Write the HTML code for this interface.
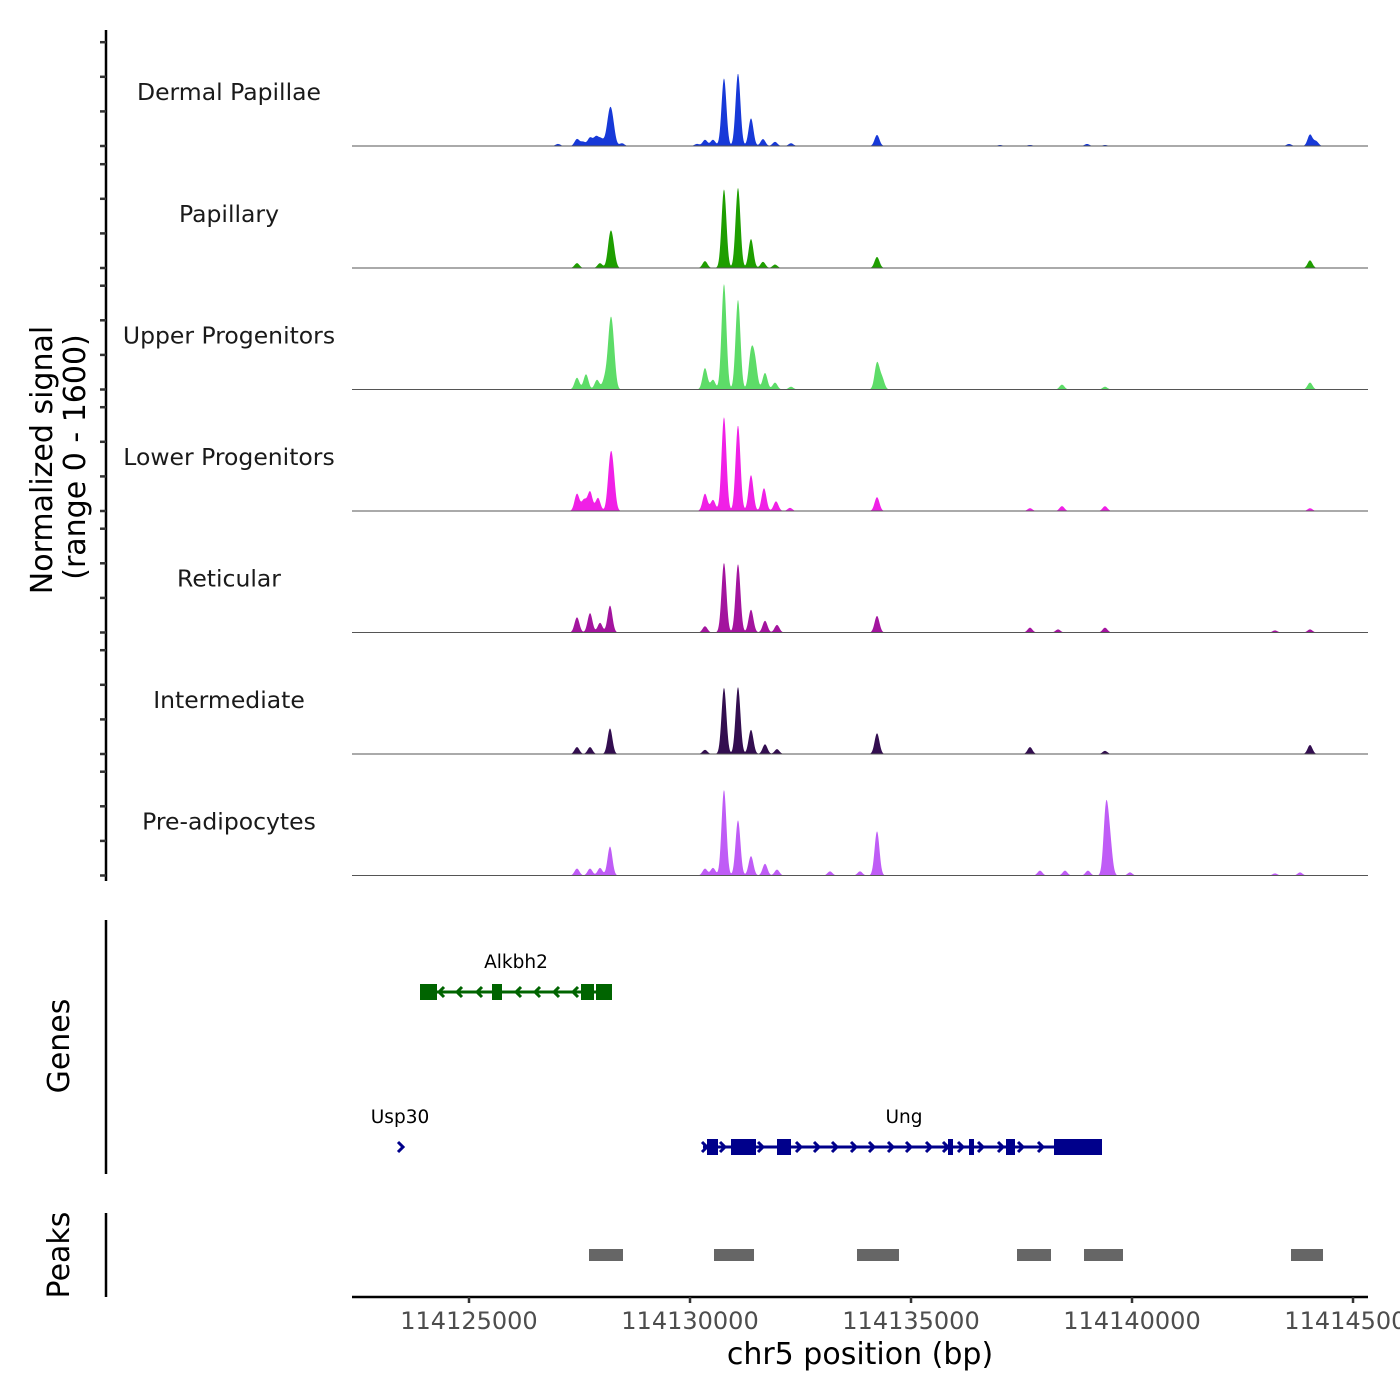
<!DOCTYPE html>
<html><head><meta charset="utf-8">
<style>
html,body{margin:0;padding:0;background:#fff;}
svg{display:block;font-family:"DejaVu Sans","Liberation Sans",sans-serif;}
</style></head>
<body>
<svg id="chart" width="1400" height="1400" viewBox="0 0 1400 1400">
<g id="tracks"></g>
<g id="genes"></g>
<g id="peaks"></g>
<g id="axes"></g>
</svg>
<script>
// ---- data ----
const trackNames = ["Dermal Papillae","Papillary","Upper Progenitors","Lower Progenitors","Reticular","Intermediate","Pre-adipocytes"];
const trackColors = ["#1739d8","#1e9e00","#5ddc68","#f020e6","#a3149e","#330e50","#bf5cf6"];
// peak centers (bp) and heights (normalized units) per track
const peakPos0 = [114127014,114127443,114127579,114127738,114127873,114127986,114128122,114128190,114128258,114128461,114130158,114130339,114130520,114130769,114131086,114131380,114131651,114131923,114132285,114134231,114137013,114137692,114138982,114139389,114143552,114144027,114144163];
const peakVal0 = [30,100,60,120,130,100,120,400,230,40,30,90,90,980,1050,400,100,60,40,160,15,15,30,15,30,165,70];
const peakPos1 = [114127443,114127964,114128190,114128258,114130339,114130769,114131086,114131380,114131651,114131923,114134231,114144027];
const peakVal1 = [70,70,400,250,100,1140,1160,420,90,50,160,110];
const peakPos2 = [114127443,114127647,114127896,114128077,114128190,114128258,114130339,114130520,114130769,114131086,114131380,114131470,114131697,114131923,114132285,114134231,114134344,114138416,114139389,114144027];
const peakVal2 = [170,220,140,160,740,520,310,140,1530,1300,500,380,240,100,40,380,160,70,40,100];
const peakPos3 = [114127443,114127602,114127738,114127918,114128190,114128258,114130339,114130520,114130769,114131086,114131380,114131674,114131946,114132262,114134231,114137692,114138416,114139389,114144027];
const peakVal3 = [250,160,280,190,600,450,250,160,1360,1240,520,330,140,45,200,40,70,70,40];
const peakPos4 = [114127443,114127738,114127964,114128190,114130339,114130769,114131086,114131380,114131697,114131968,114134231,114137692,114138326,114139389,114143235,114144027];
const peakVal4 = [220,280,140,390,90,1010,990,330,170,110,240,70,45,70,30,45];
const peakPos5 = [114127443,114127738,114128190,114130339,114130769,114131086,114131380,114131697,114131968,114134231,114137692,114139389,114144027];
const peakVal5 = [100,100,370,60,960,970,350,140,70,300,100,45,130];
const peakPos6 = [114127443,114127738,114127964,114128190,114130339,114130520,114130769,114131086,114131380,114131697,114131968,114133167,114133846,114134231,114137918,114138484,114139004,114139411,114139502,114139954,114143235,114143801];
const peakVal6 = [100,100,110,420,100,110,1240,800,280,170,85,60,60,640,70,70,70,960,450,45,30,45];
const peakPositions = [peakPos0,peakPos1,peakPos2,peakPos3,peakPos4,peakPos5,peakPos6];
const peakValues = [peakVal0,peakVal1,peakVal2,peakVal3,peakVal4,peakVal5,peakVal6];
const xTicks = [114125000,114130000,114135000,114140000,114145000];
const peakStarts = [114127715,114130543,114133778,114137398,114138914,114143597];
const peakEnds = [114128484,114131448,114134728,114138167,114139796,114144321];

// ---- scales ----
const X0=352, X1=1368, BP0=114122353, BP1=114145339;
const xs = bp => X0 + (bp-BP0)*(X1-X0)/(BP1-BP0);
const baselines = [146,268,389.5,511,632.5,754,875.5];
const ys = (v,i) => baselines[i] - v*0.069;
const NS="http://www.w3.org/2000/svg";
function mk(tag,attrs,parent,text){const e=document.createElementNS(NS,tag);for(const k in attrs)e.setAttribute(k,attrs[k]);if(text!=null)e.textContent=text;parent.appendChild(e);return e;}

// ---- tracks ----
const tg=document.getElementById('tracks');
trackNames.forEach((name,i)=>{
  const g=mk('g',{},tg);
  
  
  const P=peakPositions[i], V=peakValues[i], sig=55;
  let d='M'+xs(114124300)+','+baselines[i];
  for(let bp=114124300;bp<=114144650;bp+=12){
    let v=0;for(let k=0;k<P.length;k++){const z=(bp-P[k])/sig;v+=V[k]*Math.exp(-0.5*z*z);}
    d+=' L'+xs(bp).toFixed(2)+','+ys(Math.min(v,1600),i).toFixed(2);
  }
  d+=' L'+xs(114144650)+','+baselines[i]+' Z';
  const a=mk('path',{d:d,fill:trackColors[i]},g);
  
  
  const l=mk('line',{x1:X0,x2:X1,y1:baselines[i],y2:baselines[i],stroke:'#555','stroke-width':1},g);
  
  
  const t=mk('text',{x:229,y:baselines[i]-46,'text-anchor':'middle','font-size':23.5,fill:'#1a1a1a'},g,name);
  
  
});

// ---- axes ----
const ax=document.getElementById('axes');
mk('line',{x1:106,x2:106,y1:30,y2:881,stroke:'#000','stroke-width':2.5},ax);
baselines.forEach(b=>{for(let k=0;k<4;k++){const y=b-k*34.6;mk('line',{x1:100,x2:106,y1:y,y2:y,stroke:'#333','stroke-width':2.5},ax);}});
const yt=mk('text',{transform:'translate(52,460) rotate(-90)','text-anchor':'middle','font-size':30,fill:'#000'},ax,'Normalized signal');


mk('text',{transform:'translate(85,457) rotate(-90)','text-anchor':'middle','font-size':30,fill:'#000'},ax,'(range 0 - 1600)');
mk('line',{x1:106,x2:106,y1:920,y2:1174,stroke:'#000','stroke-width':2.5},ax);
mk('text',{transform:'translate(69,1046) rotate(-90)','text-anchor':'middle','font-size':30,fill:'#000'},ax,'Genes');
mk('line',{x1:106,x2:106,y1:1213,y2:1297,stroke:'#000','stroke-width':2.5},ax);
mk('text',{transform:'translate(69,1255) rotate(-90)','text-anchor':'middle','font-size':30,fill:'#000'},ax,'Peaks');
mk('line',{x1:352,x2:1368,y1:1297,y2:1297,stroke:'#000','stroke-width':2.5},ax);
xTicks.forEach(t=>{const x=xs(t);mk('line',{x1:x,x2:x,y1:1297,y2:1303,stroke:'#333','stroke-width':2.5},ax);
  const tx=mk('text',{x:x,y:1329,'text-anchor':'middle','font-size':24,fill:'#4d4d4d'},ax,String(t));
  
  });
const xt=mk('text',{x:860,y:1364,'text-anchor':'middle','font-size':30,fill:'#000'},ax,'chr5 position (bp)');



// ---- peaks ----
const pg=document.getElementById('peaks');
peakStarts.forEach((s,i)=>{const r=mk('rect',{x:xs(s),y:1249,width:xs(peakEnds[i])-xs(s),height:12,fill:'#666'},pg);
  
  });

// ---- genes (drawn in pixel space) ----
const gg=document.getElementById('genes');
function gene(name,y,x1,x2,exons,arrows,dir,color,lx){
  const g=mk('g',{},gg);
  
  
  if(x2>x1) mk('line',{x1:x1,x2:x2,y1:y,y2:y,stroke:color,'stroke-width':3},g);
  exons.forEach(e=>mk('rect',{x:e[0],y:y-8,width:e[1]-e[0],height:16,fill:color},g));
  arrows.forEach(a=>{const d=dir>0?`M${a-3},${y-5} L${a+2},${y} L${a-3},${y+5}`:`M${a+3},${y-5} L${a-2},${y} L${a+3},${y+5}`;
    mk('path',{d:d,fill:'none',stroke:color,'stroke-width':3},g);});
  mk('text',{x:lx,y:y-24,'text-anchor':'middle','font-size':18.5,fill:'#000'},g,name);
}
gene('Alkbh2',992,422,612,[[420,437],[492,502],[581,594],[596,612]],[441,459,479,518,537,556,575],-1,'#006400',516);
gene('Ung',1147,703,1102,[[707,718],[731,756],[777,791],[948,953],[969,974],[1006,1015],[1054,1102]],[705,723,761,799,817,835,854,872,891,909,929,946,961,981,1001,1021,1041],1,'#00008b',904);
gene('Usp30',1147,399,399,[],[401],1,'#00008b',400);
</script>
</body></html>
